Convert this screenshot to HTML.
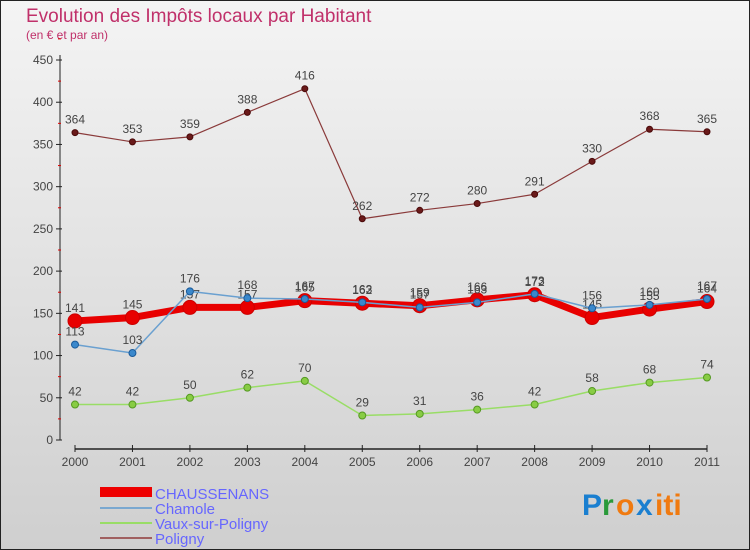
<!DOCTYPE html>
<html><head><meta charset="utf-8"><style>
body{margin:0;background:#fff}
svg{display:block;font-family:"Liberation Sans",sans-serif}
</style></head><body>
<svg id="c" width="750" height="550" xmlns="http://www.w3.org/2000/svg">
<defs><linearGradient id="bg" x1="0" y1="0" x2="0" y2="1"><stop offset="0" stop-color="#f4f4f4"/><stop offset="1" stop-color="#cfcfcf"/></linearGradient></defs>
<rect x="0.5" y="0.5" width="749" height="549" fill="url(#bg)" stroke="#222"/>
<text x="26" y="22" font-size="19" fill="#c0306a">Evolution des Impôts locaux par Habitant</text>
<text x="26" y="39" font-size="12" fill="#c0306a">(en € et par an)</text>
<g id="axes"></g><g id="series"></g>
<g>
<rect x="100" y="487" width="52" height="10" fill="#e00"/>
<text x="155" y="499" font-size="15" fill="#6666ff">CHAUSSENANS</text>
<rect x="100" y="507" width="52" height="2" fill="#7aa8d0"/>
<text x="155" y="514" font-size="15" fill="#6666ff">Chamole</text>
<rect x="100" y="522" width="52" height="2" fill="#99dd66"/>
<text x="155" y="529" font-size="15" fill="#6666ff">Vaux-sur-Poligny</text>
<rect x="100" y="537" width="52" height="2" fill="#a06060"/>
<text x="155" y="544" font-size="15" fill="#6666ff">Poligny</text>
</g>
<g font-size="30" font-weight="bold">
<text x="582" y="515" fill="#1a7fd0">P</text><text x="602" y="515" fill="#2a9a3a">r</text><text x="616" y="515" fill="#f07a10">o</text><text x="636" y="515" fill="#1a7fd0">x</text><text x="655" y="515" fill="#f07a10">iti</text>
</g>
</svg>
<script>
const years=["2000","2001","2002","2003","2004","2005","2006","2007","2008","2009","2010","2011"];
const yTicks=[0,50,100,150,200,250,300,350,400,450];
const chaussenans=[141,145,157,157,165,162,159,166,172,145,155,164];
const chamole=[113,103,176,168,167,163,157,163,173,156,160,167];
const vaux=[42,42,50,62,70,29,31,36,42,58,68,74];
const poligny=[364,353,359,388,416,262,272,280,291,330,368,365];
const NS="http://www.w3.org/2000/svg";
const X=i=>75+i*(707-75)/11, Y=v=>440-v*(380/450);
function el(t,a,p){const e=document.createElementNS(NS,t);for(const k in a)e.setAttribute(k,a[k]);p.appendChild(e);return e;}
const ax=document.getElementById('axes'), sg=document.getElementById('series');
const yl=el('line',{x1:60,y1:55,x2:60,y2:440,stroke:'#222'},ax);


yTicks.forEach(v=>{
 el('line',{x1:56,y1:Y(v),x2:62,y2:Y(v),stroke:'#222'},ax);
 el('line',{x1:58,y1:Y(v+25),x2:61,y2:Y(v+25),stroke:'#d00'},ax);
 const t=el('text',{x:53,y:Y(v)+4,'font-size':12,fill:'#444','text-anchor':'end'},ax);t.textContent=v;
 
 
});
const xl=el('line',{x1:75,y1:449,x2:707,y2:449,stroke:'#222','stroke-width':1.5},ax);


years.forEach((y,i)=>{
 el('line',{x1:X(i),y1:445,x2:X(i),y2:452,stroke:'#222'},ax);
 const t=el('text',{x:X(i),y:466,'font-size':12,fill:'#444','text-anchor':'middle'},ax);t.textContent=y;
 
 
});
function series(d,name,color,w,r,dot,stroke){
 const g=el('g',{},sg);
 
 
 el('polyline',{points:d.map((v,i)=>X(i)+','+Y(v)).join(' '),fill:'none',stroke:color,'stroke-width':w,'stroke-linejoin':'round'},g);
 d.forEach((v,i)=>{
  const c=el('circle',{cx:X(i),cy:Y(v),r:r,fill:dot,stroke:stroke,'stroke-width':1},g);
  
  
  const t=el('text',{x:X(i),y:Y(v)-9,'font-size':12,fill:'#444','text-anchor':'middle'},g);t.textContent=v;
  
  
 });
}
series(poligny,'poligny','#8a3a3a',1.2,3,'#6a1a1a','#4a0a0a');
series(vaux,'vaux-sur-poligny','#99dd66',1.5,3.5,'#88cc44','#559922');
series(chaussenans,'chaussenans','#e80000',7,7,'#e80000','#c00');
series(chamole,'chamole','#6aa0d0',1.5,3.5,'#3a88cc','#1a5a99');
</script>
</body></html>
